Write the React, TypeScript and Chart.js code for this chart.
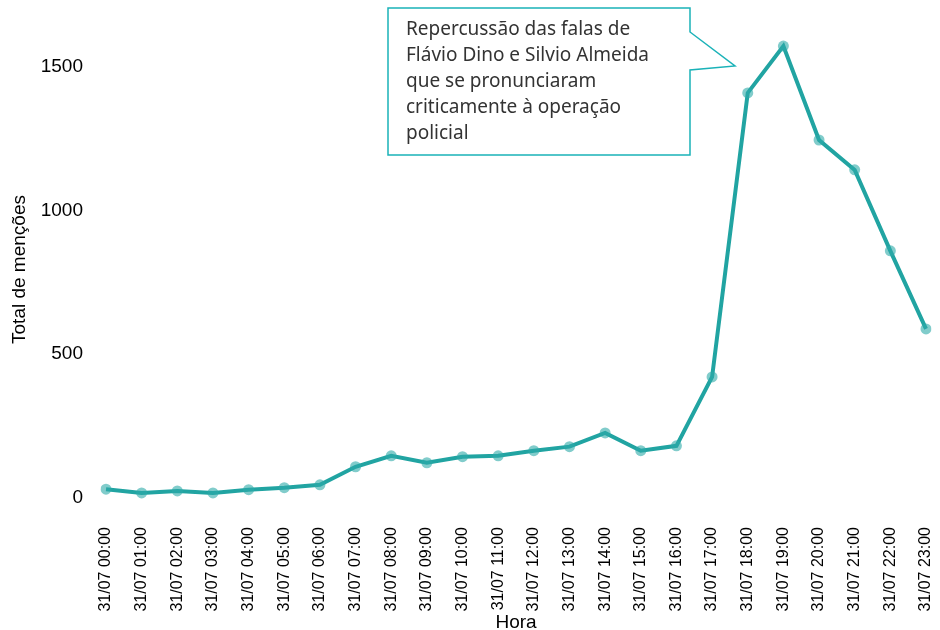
import React, { useEffect, useRef } from "react";
import { Chart, registerables } from "chart.js";

Chart.register(...registerables);

const hours = [
  "31/07 00:00", "31/07 01:00", "31/07 02:00", "31/07 03:00", "31/07 04:00", "31/07 05:00",
  "31/07 06:00", "31/07 07:00", "31/07 08:00", "31/07 09:00", "31/07 10:00", "31/07 11:00",
  "31/07 12:00", "31/07 13:00", "31/07 14:00", "31/07 15:00", "31/07 16:00", "31/07 17:00",
  "31/07 18:00", "31/07 19:00", "31/07 20:00", "31/07 21:00", "31/07 22:00", "31/07 23:00",
];
const mentions = [30, 17, 24, 17, 28, 35, 45, 108, 146, 122, 143, 146, 164, 178, 226, 164, 181, 421, 1410, 1573, 1246, 1142, 860, 588];
const yTicks = [0, 500, 1000, 1500];
const annotationLines = [
  "Repercussão das falas de",
  "Flávio Dino e Silvio Almeida",
  "que se pronunciaram",
  "criticamente à operação",
  "policial",
];

const TEAL = "#21a4a2";

const calloutPlugin = {
  id: "callout",
  afterDraw(chart: any) {
    const ctx = chart.ctx;
    ctx.save();
    const x0 = 388, y0 = 8, x1 = 690, y1 = 155;
    ctx.beginPath();
    ctx.moveTo(x0, y0);
    ctx.lineTo(x1, y0);
    ctx.lineTo(x1, 32);
    ctx.lineTo(735, 66);
    ctx.lineTo(x1, 70);
    ctx.lineTo(x1, y1);
    ctx.lineTo(x0, y1);
    ctx.closePath();
    ctx.fillStyle = "#ffffff";
    ctx.fill();
    ctx.strokeStyle = "#1ab2b8";
    ctx.lineWidth = 1.5;
    ctx.stroke();
    ctx.fillStyle = "#333333";
    ctx.font = '19px "Noto Sans"';
    ctx.textBaseline = "middle";
    ctx.textAlign = "left";
    annotationLines.forEach((t, i) => {
      ctx.fillText(t, 406, 30 + i * 26);
    });
    ctx.restore();
  },
};

export default function App() {
  const ref = useRef<HTMLCanvasElement>(null);
  useEffect(() => {
    if (!ref.current) return;
    const chart = new Chart(ref.current, {
      type: "line",
      data: {
        labels: hours,
        datasets: [
          {
            data: mentions,
            borderColor: TEAL,
            borderWidth: 4,
            pointRadius: 5.5,
            pointBackgroundColor: "rgba(45,170,168,0.6)",
            pointBorderWidth: 0,
            tension: 0,
          },
        ],
      },
      options: {
        responsive: false,
        animation: false,
        layout: { padding: { top: 24, right: 14, left: 0, bottom: 0 } },
        plugins: { legend: { display: false }, tooltip: { enabled: false } },
        scales: {
          x: {
            offset: false,
            grid: { display: false, drawTicks: false },
            border: { display: false },
            ticks: {
              color: "#000",
              font: { family: '"Liberation Sans", Arial', size: 16 },
              minRotation: 90,
              maxRotation: 90,
              autoSkip: false,
              padding: 12,
            },
            title: {
              display: true,
              text: "Hora",
              color: "#000",
              font: { family: '"Liberation Sans", Arial', size: 19 },
              padding: { top: 0, bottom: -4 },
            },
            afterFit: (s: any) => {
              s.height = 115;
              s.paddingLeft = 0;
              s.paddingRight = 0;
            },
          },
          y: {
            min: -60,
            max: 1650,
            grid: { display: false, drawTicks: false },
            border: { display: false },
            afterBuildTicks: (s: any) => {
              s.ticks = yTicks.map((v) => ({ value: v }));
            },
            ticks: {
              color: "#000",
              font: { family: '"Liberation Sans", Arial', size: 19 },
              padding: 23,
              callback: (v: any) => String(v),
            },
            title: {
              display: true,
              text: "Total de menções",
              color: "#000",
              font: { family: '"Liberation Sans", Arial', size: 19 },
              padding: { top: 8, bottom: 0 },
            },
            afterFit: (s: any) => {
              s.width = 106;
              s.paddingTop = 0;
              s.paddingBottom = 0;
            },
          },
        },
      },
      plugins: [calloutPlugin],
    });
    return () => chart.destroy();
  }, []);
  return (
    <div style={{ position: "absolute", left: 0, top: 0, width: 940, height: 630, background: "#fff" }}>
      <canvas ref={ref} width={940} height={630} />
    </div>
  );
}
